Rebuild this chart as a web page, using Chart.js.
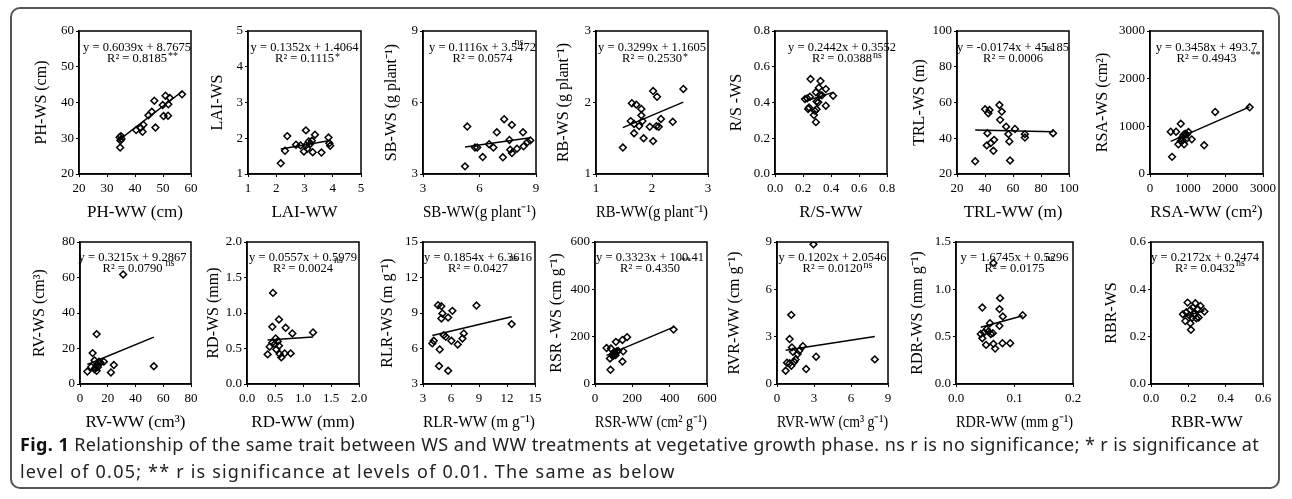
<!DOCTYPE html>
<html lang="en">
<head>
    <meta charset="UTF-8">
    <title>Fig. 1 WS vs WW</title>
    <script src="https://cdn.jsdelivr.net/npm/chart.js"></script>
    <style>
        body { margin: 0; width: 1292px; height: 499px; background: #fff; position: relative; overflow: hidden; }
        .frame { position: absolute; left: 10px; top: 7px; width: 1270px; height: 482px; border: 2px solid #555; border-radius: 10px; box-sizing: border-box; }
        .panel { position: absolute; }
        .caption { position: absolute; left: 20px; top: 431px; font-family: "Noto Sans", sans-serif; font-size: 18px; letter-spacing: 0.4px; line-height: 27px; color: #222; white-space: nowrap; }
        .caption b { color: #111; }
        .caption .l2 { letter-spacing: 1.2px; }
    </style>
</head>
<body>
    <div class="frame"></div>
    <div id="panels"></div>
    <div class="caption"><b>Fig. 1</b> Relationship of the same trait between WS and WW treatments at vegetative growth phase. ns r is no significance; * r is significance at<br><span class="l2">level of 0.05; ** r is significance at levels of 0.01. The same as below</span></div>

    <script>
        // ---- values (WW on x, WS on y) ----
        const phWW = [34.5, 35.0, 35.2, 34.8, 34.7, 40.4, 42.0, 42.7, 43.0, 44.8, 46.0, 46.9, 47.3, 49.9, 50.2, 50.9, 51.8, 51.9, 52.4, 56.8];
        const phWS = [30.3, 30.6, 29.8, 29.4, 27.4, 32.3, 32.9, 31.8, 33.8, 36.4, 37.4, 40.5, 33.0, 39.3, 36.2, 41.9, 36.3, 39.5, 41.3, 42.3];

        const laiWW = [2.16, 2.31, 2.39, 2.70, 2.86, 2.98, 3.05, 3.05, 3.10, 3.15, 3.20, 3.26, 3.29, 3.37, 3.60, 3.85, 3.88, 3.91];
        const laiWS = [1.30, 1.65, 2.06, 1.82, 1.80, 1.63, 2.22, 1.80, 1.71, 1.91, 1.84, 1.93, 1.61, 2.10, 1.60, 2.02, 1.86, 1.79];

        const sbWW = [5.23, 5.35, 5.76, 5.88, 6.17, 6.51, 6.74, 6.92, 7.31, 7.24, 7.72, 7.59, 7.63, 7.72, 7.99, 8.31, 8.34, 8.55, 8.70];
        const sbWS = [3.32, 4.99, 4.11, 4.11, 3.71, 4.25, 4.11, 4.75, 5.30, 3.70, 5.06, 4.43, 4.02, 3.88, 4.06, 4.75, 4.16, 4.34, 4.41];

        const rbWW = [1.48, 1.64, 1.62, 1.72, 1.68, 1.68, 1.81, 1.81, 1.83, 1.85, 1.77, 1.96, 2.02, 2.02, 2.09, 2.08, 2.12, 2.16, 2.37, 2.56];
        const rbWS = [1.37, 1.99, 1.74, 1.97, 1.70, 1.57, 1.91, 1.82, 1.74, 1.50, 1.67, 1.66, 2.16, 1.46, 2.08, 1.67, 1.66, 1.77, 1.73, 2.19];

        const rsWW = [0.254, 0.325, 0.230, 0.249, 0.214, 0.237, 0.292, 0.313, 0.320, 0.363, 0.297, 0.309, 0.278, 0.285, 0.297, 0.292, 0.363, 0.415, 0.335, 0.243];
        const rsWS = [0.531, 0.520, 0.423, 0.432, 0.419, 0.364, 0.457, 0.483, 0.442, 0.475, 0.405, 0.401, 0.330, 0.353, 0.362, 0.290, 0.382, 0.438, 0.440, 0.372];

        const trlWW = [33.0, 40.1, 43.2, 42.4, 41.7, 41.3, 44.1, 46.5, 46.0, 50.3, 52.0, 50.8, 55.1, 56.7, 57.4, 57.9, 61.4, 68.5, 68.5, 88.6];
        const trlWS = [27.1, 56.2, 55.8, 54.0, 42.8, 36.0, 37.3, 39.1, 33.0, 58.6, 54.9, 50.3, 46.5, 42.3, 38.2, 27.6, 45.2, 42.3, 40.4, 42.8];

        const rsaWW = [550, 692, 817, 586, 754, 817, 843, 888, 932, 976, 1021, 959, 870, 1109, 905, 1438, 1731, 2645];
        const rsaWS = [887, 887, 1053, 360, 624, 693, 762, 818, 845, 831, 880, 727, 707, 727, 624, 603, 1302, 1400];

        const rvWW = [5.3, 9.1, 10.5, 11.3, 12.5, 13.7, 10.5, 12.0, 12.9, 14.8, 17.2, 22.3, 24.4, 53.2, 8.1, 12.0, 31.1];
        const rvWS = [7.0, 17.4, 13.3, 9.3, 11.1, 12.6, 8.3, 7.4, 9.6, 12.0, 12.6, 6.5, 10.7, 10.0, 9.6, 28.1, 61.7];

        const rdWW = [0.464, 0.452, 0.571, 0.69, 0.81, 1.179, 0.369, 0.405, 0.452, 0.494, 0.512, 0.524, 0.571, 0.583, 0.613, 0.673, 0.78, 0.55];
        const rdWS = [1.283, 0.806, 0.909, 0.792, 0.712, 0.726, 0.417, 0.525, 0.581, 0.562, 0.642, 0.487, 0.539, 0.421, 0.375, 0.431, 0.431, 0.60];

        const rlrWW = [4.0, 4.15, 4.61, 4.97, 5.08, 4.97, 5.69, 6.15, 4.72, 4.79, 5.22, 5.44, 6.04, 6.72, 7.23, 7.37, 5.69, 8.73, 12.5];
        const rlrWS = [6.43, 6.65, 9.66, 9.58, 8.96, 8.54, 8.62, 9.18, 4.52, 5.92, 7.13, 6.99, 6.65, 6.34, 6.85, 7.27, 4.12, 9.63, 8.06];

        const rsrWW = [62, 85, 80, 83, 112, 147, 172, 98, 106, 115, 124, 100, 110, 95, 151, 147, 421];
        const rsrWS = [152, 150, 108, 60, 178, 186, 198, 128, 133, 137, 140, 120, 122, 118, 138, 95, 230];

        const rvrWW = [2.96, 1.16, 1.02, 1.21, 1.29, 2.10, 1.67, 0.70, 0.81, 1.02, 1.16, 1.40, 2.36, 3.17, 7.93, 1.80, 1.50];
        const rvrWS = [8.85, 4.38, 2.85, 2.32, 2.04, 2.40, 1.90, 0.84, 1.35, 1.31, 1.16, 1.41, 0.95, 1.73, 1.56, 2.10, 1.55];

        const rdrWW = [0.064, 0.045, 0.0754, 0.0743, 0.080, 0.114, 0.058, 0.0743, 0.0423, 0.045, 0.048, 0.0526, 0.0554, 0.0594, 0.0629, 0.0514, 0.064, 0.0669, 0.0794, 0.0926];
        const rdrWS = [1.278, 0.808, 0.907, 0.791, 0.713, 0.727, 0.642, 0.614, 0.529, 0.484, 0.544, 0.579, 0.554, 0.529, 0.537, 0.413, 0.424, 0.374, 0.431, 0.431];

        const rbrWW = [0.196, 0.2375, 0.171, 0.189, 0.211, 0.225, 0.25, 0.286, 0.184, 0.22, 0.243, 0.255, 0.211, 0.214, 0.232, 0.205, 0.265];
        const rbrWS = [0.344, 0.341, 0.295, 0.303, 0.313, 0.323, 0.317, 0.306, 0.266, 0.280, 0.278, 0.281, 0.257, 0.229, 0.295, 0.290, 0.330];

        // regression lines as printed on each panel
        const slopes     = [0.6039, 0.1352, 0.1116, 0.3299, 0.2442, -0.0174, 0.3458, 0.3215, 0.0557, 0.1854, 0.3323, 0.1202, 1.6745, 0.2172];
        const intercepts = [8.7675, 1.4064, 3.5472, 1.1605, 0.3552, 45.185, 493.7, 9.2867, 0.5979, 6.3616, 100.41, 2.0546, 0.5296, 0.2474];
        const equations = ['y = 0.6039x + 8.7675', 'y = 0.1352x + 1.4064', 'y = 0.1116x + 3.5472', 'y = 0.3299x + 1.1605',
            'y = 0.2442x + 0.3552', 'y = -0.0174x + 45.185', 'y = 0.3458x + 493.7', 'y = 0.3215x + 9.2867',
            'y = 0.0557x + 0.5979', 'y = 0.1854x + 6.3616', 'y = 0.3323x + 100.41', 'y = 0.1202x + 2.0546',
            'y = 1.6745x + 0.5296', 'y = 0.2172x + 0.2474'];
        const r2Texts = ['R² = 0.8185', 'R² = 0.1115', 'R² = 0.0574', 'R² = 0.2530', 'R² = 0.0388', 'R² = 0.0006', 'R² = 0.4943',
            'R² = 0.0790', 'R² = 0.0024', 'R² = 0.0427', 'R² = 0.4350', 'R² = 0.0120', 'R² = 0.0175', 'R² = 0.0432'];
        const sigMarks = ['**', '*', 'ns', '*', 'ns', 'ns', '**', 'ns', 'ns', 'ns', '**', 'ns', 'ns', 'ns'];

        const xTitles = ['PH-WW (cm)', 'LAI-WW', 'SB-WW(g plant⁻¹)', 'RB-WW(g plant⁻¹)', 'R/S-WW', 'TRL-WW (m)', 'RSA-WW (cm²)',
            'RV-WW (cm³)', 'RD-WW (mm)', 'RLR-WW (m g⁻¹)', 'RSR-WW (cm² g⁻¹)', 'RVR-WW (cm³ g⁻¹)', 'RDR-WW (mm g⁻¹)', 'RBR-WW'];
        const yTitles = ['PH-WS (cm)', 'LAI-WS', 'SB-WS (g plant⁻¹)', 'RB-WS (g plant⁻¹)', 'R/S -WS', 'TRL-WS (m)', 'RSA-WS (cm²)',
            'RV-WS (cm³)', 'RD-WS (mm)', 'RLR-WS (m g⁻¹)', 'RSR -WS (cm g⁻¹)', 'RVR-WW (cm g⁻¹)', 'RDR-WS (mm g⁻¹)', 'RBR-WS'];

        // axis ticks: [min, max, step, decimals]
        const xTicks = [[20, 60, 10, 0], [1, 5, 1, 0], [3, 9, 3, 0], [1, 3, 1, 0], [0, 0.8, 0.2, 1], [20, 100, 20, 0], [0, 3000, 1000, 0],
            [0, 80, 20, 0], [0, 2, 0.5, 1], [3, 15, 3, 0], [0, 600, 200, 0], [0, 9, 3, 0], [0, 0.2, 0.1, 1], [0, 0.6, 0.2, 1]];
        const yTicks = [[20, 60, 10, 0], [1, 5, 1, 0], [3, 9, 3, 0], [1, 3, 1, 0], [0, 0.8, 0.2, 1], [20, 100, 20, 0], [0, 3000, 1000, 0],
            [0, 80, 20, 0], [0, 2, 0.5, 1], [3, 15, 3, 0], [0, 600, 200, 0], [0, 9, 3, 0], [0, 1.5, 0.5, 1], [0, 0.6, 0.2, 1]];

        const seriesX = [phWW, laiWW, sbWW, rbWW, rsWW, trlWW, rsaWW, rvWW, rdWW, rlrWW, rsrWW, rvrWW, rdrWW, rbrWW];
        const seriesY = [phWS, laiWS, sbWS, rbWS, rsWS, trlWS, rsaWS, rvWS, rdWS, rlrWS, rsrWS, rvrWS, rdrWS, rbrWS];

        // ---- layout in page pixels ----
        const plotLefts  = [79, 248, 423, 596, 775, 957, 1150, 80, 247, 423, 595, 777, 956, 1151];
        const plotWidths = [112, 113, 113, 112, 112, 112, 113, 111, 112, 112, 112, 111, 117, 112];
        const yAxisWidths = [47, 40, 41, 42, 48, 47, 57, 50, 43, 45, 48, 52, 48, 49];
        const eqShift = [2, 0, 3, 0, 11, 0, 0, -3, 0, -1, -1, 0, 0, -2];
        // where the significance mark sits: gap after the R² text, height below plot top
        const sigDx = [1, 1, 2, 1, 1, 1, 14, 3, 1, 1, 1, 1, 1, 1];
        const sigDy = [23, 24, 11, 24, 24, 17, 22, 21, 18, 16, 17, 23, 16, 21];
        const rowTops = [31, 242];
        const rowHeights = [143, 142];
        const PAD_TOP = 12, PAD_RIGHT = 18, X_AXIS_H = 49;
        const SERIF = '"Liberation Serif", "Times New Roman", serif';

        // frame around the plot area + equation text
        const boxAndLabels = {
            id: 'boxAndLabels',
            afterDatasetsDraw(chart, args, opts) {
                const { ctx, chartArea: a } = chart;
                ctx.save();
                ctx.strokeStyle = '#000';
                ctx.lineWidth = 1.5;
                ctx.strokeRect(a.left, a.top, a.width, a.height);

                const cx = a.left + a.width / 2 + opts.shift;
                ctx.fillStyle = '#000';
                ctx.font = '12.5px ' + SERIF;
                ctx.textAlign = 'center';
                ctx.textBaseline = 'middle';
                ctx.fillText(opts.eq, cx, a.top + opts.line1);
                ctx.fillText(opts.r2, cx, a.top + opts.line1 + 10.5);
                const w = ctx.measureText(opts.r2).width;

                // superscript: asterisks sit high in the em box, "ns" sits on the baseline
                ctx.font = '10px ' + SERIF;
                ctx.textAlign = 'left';
                ctx.textBaseline = 'alphabetic';
                const lift = opts.sig.charAt(0) === '*' ? 5 : 2.5;
                ctx.fillText(opts.sig, cx + w / 2 + opts.sdx, a.top + opts.sdy + lift);
                ctx.restore();
            }
        };

        function makeAxis(t, title, isX, size) {
            return {
                type: 'linear',
                min: t[0], max: t[1],
                ticks: {
                    stepSize: t[2], color: '#000', padding: isX ? 4 : 2,
                    font: { family: SERIF, size: 13 },
                    maxRotation: 0, autoSkip: false,
                    callback: v => Number(v).toFixed(t[3])
                },
                grid: { drawOnChartArea: false, drawTicks: true, tickLength: 3, color: '#000', lineWidth: 1 },
                border: { color: '#000', width: 1.5 },
                title: { display: true, text: title, color: '#000', padding: 0, font: { family: SERIF, size: isX ? 17 : 16 } },
                afterFit: s => { if (isX) s.height = size; else s.width = size; }
            };
        }

        const host = document.getElementById('panels');

        seriesX.forEach((xs, i) => {
            const row = i < 7 ? 0 : 1;
            const yw = yAxisWidths[i];
            const canvas = document.createElement('canvas');
            canvas.className = 'panel';
            canvas.width = yw + plotWidths[i] + PAD_RIGHT;
            canvas.height = PAD_TOP + rowHeights[row] + X_AXIS_H;
            canvas.style.left = (plotLefts[i] - yw) + 'px';
            canvas.style.top = (rowTops[row] - PAD_TOP) + 'px';
            host.appendChild(canvas);

            const ys = seriesY[i];
            const pts = xs.map((x, k) => ({ x: x, y: ys[k] }));
            const x0 = Math.min(...xs), x1 = Math.max(...xs);
            const fit = [x0, x1].map(x => ({ x: x, y: slopes[i] * x + intercepts[i] }));

            new Chart(canvas, {
                type: 'scatter',
                data: {
                    datasets: [
                        { data: pts, pointStyle: 'rectRot', pointRadius: 3.4, borderColor: '#000', backgroundColor: 'rgba(0,0,0,0)', borderWidth: 1.5 },
                        { data: fit, showLine: true, pointRadius: 0, borderColor: '#000', borderWidth: 1.5 }
                    ]
                },
                options: {
                    responsive: false, animation: false, devicePixelRatio: 1,
                    layout: { padding: { top: PAD_TOP, right: PAD_RIGHT, left: 0, bottom: 0 } },
                    scales: {
                        x: makeAxis(xTicks[i], xTitles[i], true, X_AXIS_H),
                        y: makeAxis(yTicks[i], yTitles[i], false, yw)
                    },
                    plugins: {
                        legend: { display: false },
                        tooltip: { enabled: false },
                        boxAndLabels: {
                            eq: equations[i], r2: r2Texts[i], sig: sigMarks[i], shift: eqShift[i],
                            line1: row === 0 ? 17 : 16, sdx: sigDx[i], sdy: sigDy[i]
                        }
                    }
                },
                plugins: [boxAndLabels]
            });
        });
    </script>
</body>
</html>
